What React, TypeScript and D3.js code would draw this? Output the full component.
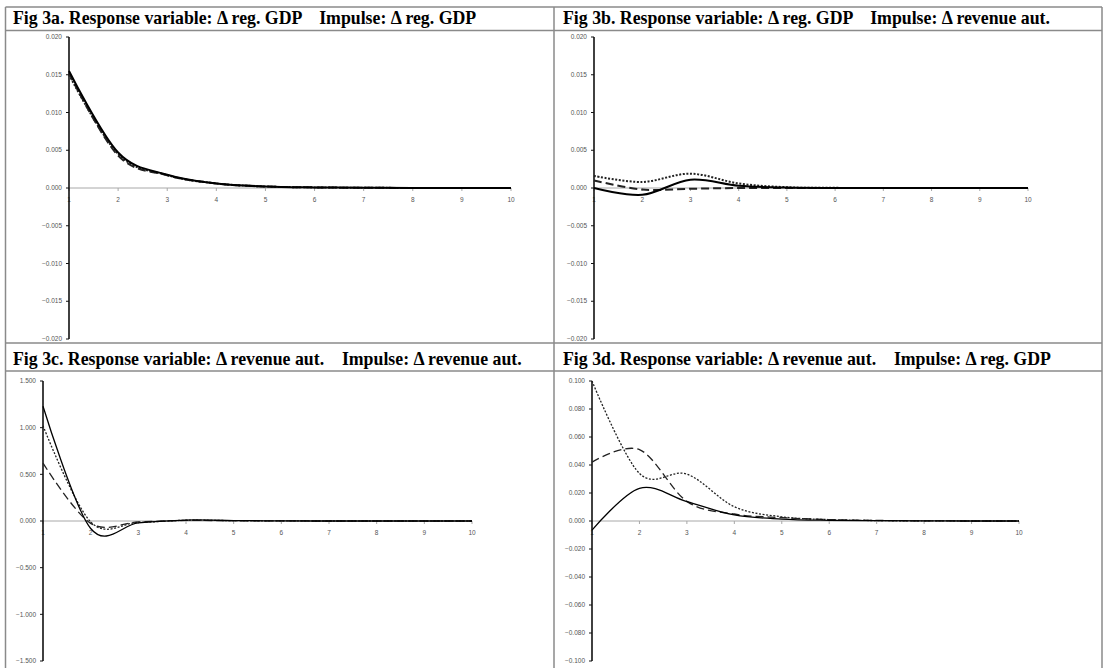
import * as d3 from "d3";

// horizon (periods after the shock)
const periods = [1, 2, 3, 4, 5, 6, 7, 8, 9, 10];

// Fig 3a: response of reg. GDP to reg. GDP
const gdpGdpSolid = [0.0155, 0.0047, 0.00176, 0.0006, 0.0002, 0.00008, 0.00003, 0.00001, 0, 0];
const gdpGdpDotted = [0.015, 0.0045, 0.0017, 0.0006, 0.0002, 0.00008, 0.00003, 0.00001, 0, 0];
const gdpGdpDashed = [0.0152, 0.0043, 0.0017, 0.0006, 0.0002, 0.00008, 0.00003, 0.00001, 0, 0];

// Fig 3b: response of reg. GDP to revenue aut.
const gdpRevSolid = [0.0, -0.0009, 0.0011, 0.0003, 0.00005, 0, 0, 0, 0, 0];
const gdpRevDotted = [0.0016, 0.0008, 0.0019, 0.0006, 0.0001, 0.00002, 0, 0, 0, 0];
const gdpRevDashed = [0.001, -0.0002, -0.0001, 0.0, 0.0, 0, 0, 0, 0, 0];

// Fig 3c: response of revenue aut. to revenue aut.
const revRevSolid = [1.23, -0.08, -0.02, 0.01, 0.005, 0.001, 0, 0, 0, 0];
const revRevDotted = [1.02, -0.01, -0.015, 0.008, 0.004, 0.001, 0, 0, 0, 0];
const revRevDashed = [0.62, -0.025, -0.01, 0.006, 0.003, 0.001, 0, 0, 0, 0];

// Fig 3d: response of revenue aut. to reg. GDP
const revGdpSolid = [-0.0065, 0.0233, 0.0138, 0.0043, 0.0014, 0.0005, 0.0002, 0.0001, 0, 0];
const revGdpDotted = [0.1, 0.034, 0.0335, 0.0102, 0.003, 0.001, 0.0003, 0.0001, 0, 0];
const revGdpDashed = [0.042, 0.051, 0.014, 0.005, 0.0024, 0.001, 0.0004, 0.0001, 0, 0];

// y tick values
const gdpTicks = [-0.02, -0.015, -0.01, -0.005, 0, 0.005, 0.01, 0.015, 0.02];
const revRevTicks = [-1.5, -1.0, -0.5, 0, 0.5, 1.0, 1.5];
const revGdpTicks = [-0.1, -0.08, -0.06, -0.04, -0.02, 0, 0.02, 0.04, 0.06, 0.08, 0.1];

const titles = [
  "Fig 3a. Response variable: \u0394 reg. GDP    Impulse: \u0394 reg. GDP",
  "Fig 3b. Response variable: \u0394 reg. GDP    Impulse: \u0394 revenue aut.",
  "Fig 3c. Response variable: \u0394 revenue aut.    Impulse: \u0394 revenue aut.",
  "Fig 3d. Response variable: \u0394 revenue aut.    Impulse: \u0394 reg. GDP",
];

type Panel = {
  title: string;
  titleX: number;
  titleY: number;
  x0: number;
  x1: number;
  yTop: number;
  yBottom: number;
  ticks: number[];
  solid: number[];
  dotted: number[];
  dashed: number[];
  lineWidth: number;
};

const panels: Panel[] = [
  { title: titles[0], titleX: 13, titleY: 24, x0: 69, x1: 511, yTop: 37, yBottom: 339, ticks: gdpTicks, solid: gdpGdpSolid, dotted: gdpGdpDotted, dashed: gdpGdpDashed, lineWidth: 2 },
  { title: titles[1], titleX: 563, titleY: 24, x0: 594, x1: 1028, yTop: 37, yBottom: 339, ticks: gdpTicks, solid: gdpRevSolid, dotted: gdpRevDotted, dashed: gdpRevDashed, lineWidth: 2 },
  { title: titles[2], titleX: 13, titleY: 365, x0: 43, x1: 472, yTop: 381, yBottom: 661, ticks: revRevTicks, solid: revRevSolid, dotted: revRevDotted, dashed: revRevDashed, lineWidth: 1.3 },
  { title: titles[3], titleX: 563, titleY: 365, x0: 592, x1: 1019, yTop: 381, yBottom: 661, ticks: revGdpTicks, solid: revGdpSolid, dotted: revGdpDotted, dashed: revGdpDashed, lineWidth: 1.3 },
];

const fmt = d3.format(".3f");
const tickFont = "'Liberation Sans', Arial, sans-serif";

const Chart = ({ p }: { p: Panel }) => {
  const ext = d3.extent(p.ticks) as [number, number];
  const x = d3.scaleLinear().domain([1, 10]).range([p.x0, p.x1]);
  const y = d3.scaleLinear().domain(ext).range([p.yBottom, p.yTop]);
  const line = d3
    .line<number>()
    .x((_, i) => x(periods[i]))
    .y((d) => y(d))
    .curve(d3.curveCardinal.tension(0));
  const y0 = y(0);

  return (
    <g>
      <text x={p.titleX} y={p.titleY} fontFamily="'Liberation Serif', 'Times New Roman', serif" fontWeight="bold" fontSize={17.8} style={{ whiteSpace: "pre" }} fill="#000">
        {p.title}
      </text>
      {/* zero line */}
      <line x1={p.x0} x2={p.x1} y1={y0} y2={y0} stroke="#a8a8a8" strokeWidth={1} />
      {periods.map((d) => (
        <g key={d}>
          <line x1={x(d)} x2={x(d)} y1={y0} y2={y0 + 3} stroke="#a8a8a8" strokeWidth={1} />
          <text x={x(d)} y={y0 + 14} textAnchor="middle" fontFamily={tickFont} fontSize={6.5} fill="#555">
            {d}
          </text>
        </g>
      ))}
      {/* y axis */}
      <line x1={p.x0} x2={p.x0} y1={p.yTop} y2={p.yBottom} stroke="#111" strokeWidth={1.6} />
      {p.ticks.map((t) => (
        <g key={t}>
          <line x1={p.x0 - 3} x2={p.x0} y1={y(t)} y2={y(t)} stroke="#111" strokeWidth={1} />
          <text x={p.x0 - 7} y={y(t) + 2.2} textAnchor="end" fontFamily={tickFont} fontSize={6.5} fill="#555">
            {fmt(t)}
          </text>
        </g>
      ))}
      <path d={line(p.dashed) ?? ""} fill="none" stroke="#222" strokeWidth={p.lineWidth} strokeDasharray="8,4" />
      <path d={line(p.dotted) ?? ""} fill="none" stroke="#222" strokeWidth={p.lineWidth} strokeDasharray="2,1.6" />
      <path d={line(p.solid) ?? ""} fill="none" stroke="#000" strokeWidth={p.lineWidth} />
    </g>
  );
};

export default function App() {
  const border = "#8a8a8a";
  return (
    <div style={{ position: "absolute", left: 0, top: 0 }}>
      <svg width={1110} height={668} style={{ display: "block", background: "#fff" }}>
        {/* table grid */}
        <g stroke={border} strokeWidth={1.5} fill="none">
          <line x1={5.5} x2={5.5} y1={7} y2={668} />
          <line x1={554} x2={554} y1={7} y2={668} />
          <line x1={1102} x2={1102} y1={7} y2={668} />
          <line x1={5.5} x2={1102} y1={7} y2={7} />
          <line x1={5.5} x2={1102} y1={30.5} y2={30.5} />
          <line x1={5.5} x2={1102} y1={343} y2={343} />
          <line x1={5.5} x2={1102} y1={371} y2={371} />
        </g>
        {panels.map((p) => (
          <Chart key={p.title} p={p} />
        ))}
      </svg>
    </div>
  );
}
